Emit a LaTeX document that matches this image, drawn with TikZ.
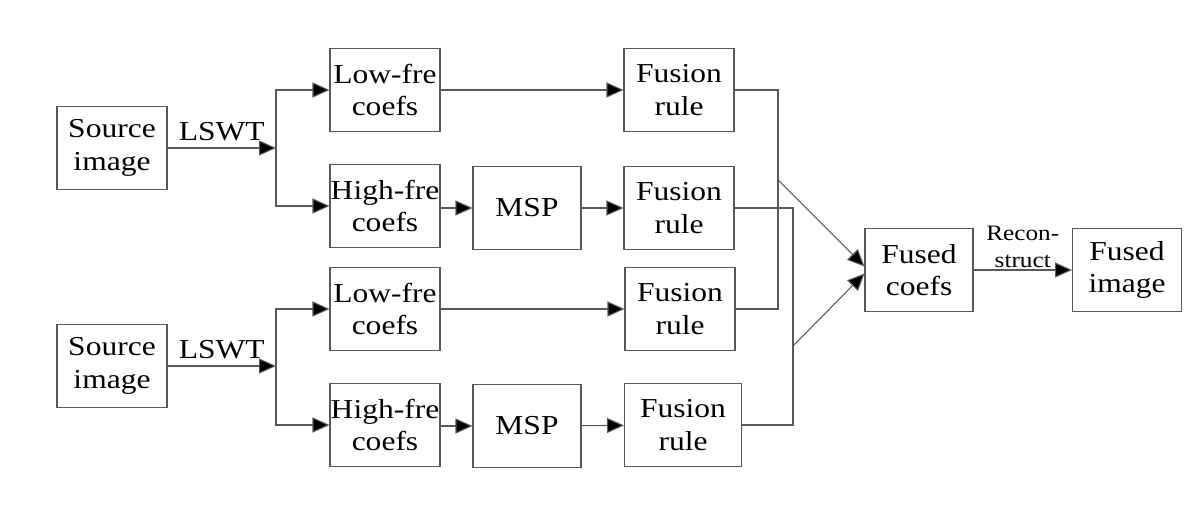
\documentclass[tikz,border=0pt]{standalone}
\usepackage{fontspec}
\setmainfont{Liberation Serif}[FakeStretch=1.15]
\usetikzlibrary{arrows.meta,calc}
\tikzset{blk/.style={rectangle,draw=black!65,line width=0.6pt,minimum width=2.2cm,minimum height=1.66cm,inner sep=0pt,align=center,font=\fontsize{15.6}{18.6}\selectfont},
lbl/.style={font=\fontsize{15.6}{18.6}\selectfont,inner sep=4pt},
conn/.style={draw=black!65,line width=0.6pt},
arr/.style={conn,-{Triangle[length=0.34cm,width=0.3cm,fill=black]}}}

\begin{document}
\begin{tikzpicture}[x=0.02cm,y=-0.02cm]
\useasboundingbox (0,0) rectangle (1200,510);
\node[blk] (src1) at (112,148) {Source\\image};
\node[blk] (low1) at (385,90) {Low-fre\\coefs};
\node[blk] (high1) at (385,206) {High-fre\\coefs};
\node[blk,minimum width=2.16cm] (msp1) at (527,208) {MSP};
\node[blk] (fr1) at (679,90) {Fusion\\rule};
\node[blk] (fr2) at (679,208) {Fusion\\rule};
\node[blk] (src2) at (112,366) {Source\\image};
\node[blk] (low2) at (385,309) {Low-fre\\coefs};
\node[blk] (high2) at (385,425) {High-fre\\coefs};
\node[blk,minimum width=2.16cm] (msp2) at (527,426) {MSP};
\node[blk] (fr3) at (680,309) {Fusion\\rule};
\node[blk,minimum width=2.34cm] (fr4) at (683,425) {Fusion\\rule};
\node[blk,minimum width=2.16cm] (fused) at (919,270) {Fused\\coefs};
\node[blk,minimum width=2.18cm] (out) at (1127,270) {Fused\\image};

\coordinate (br1) at (276,148);
\coordinate (br2) at (276,366);
\coordinate (ja) at (778,180);
\coordinate (jb) at (793,346);

\draw[arr] (src1) -- node[above,lbl]{LSWT} (br1);
\draw[arr] (br1) |- (low1);
\draw[arr] (br1) |- (high1);
\draw[arr] (low1) -- (fr1);
\draw[arr] (high1.east|-msp1) -- (msp1);
\draw[arr] (msp1) -- (fr2);

\draw[arr] (src2) -- node[above,lbl]{LSWT} (br2);
\draw[arr] (br2) |- (low2);
\draw[arr] (br2) |- (high2);
\draw[arr] (low2) -- (fr3);
\draw[arr] (high2.east|-msp2) -- (msp2);
\draw[arr] (msp2) -- (fr4);

\draw[conn] (fr1) -| (ja|-fr3) -- (fr3);
\draw[conn] (fr2) -| (jb|-fr4) -- (fr4);
\draw[arr] (ja) -- ([yshift=2pt]fused.west);
\draw[arr] (jb) -- ([yshift=-2pt]fused.west);

\draw[arr] (fused) -- node[above,align=center,inner sep=1pt,font=\fontsize{12.5}{15.5}\selectfont]{Recon-\\struct} (out);
\end{tikzpicture}
\end{document}
